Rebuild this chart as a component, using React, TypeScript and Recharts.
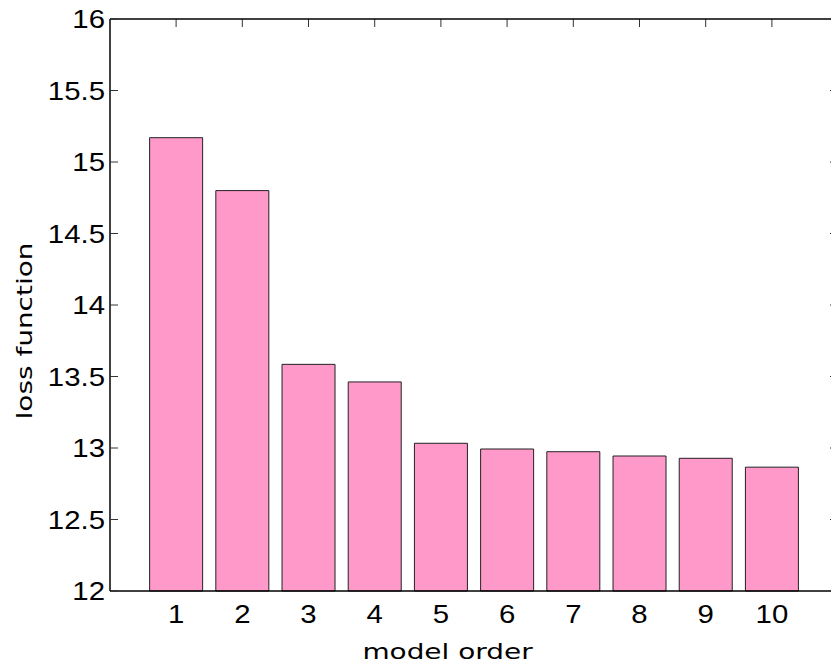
import React from 'react';
import { ComposedChart, Bar, Line, XAxis, YAxis, ReferenceLine } from 'recharts';

// Loss function value for each candidate model order
const MODEL_ORDERS = [1, 2, 3, 4, 5, 6, 7, 8, 9, 10];
const LOSS_VALUES = [15.17, 14.8, 13.585, 13.462, 13.033, 12.993, 12.974, 12.944, 12.928, 12.866];
const Y_TICKS = [12, 12.5, 13, 13.5, 14, 14.5, 15, 15.5, 16];
const Y_DOMAIN: [number, number] = [12, 16];

const X_TITLE = 'model order';
const Y_TITLE = 'loss function';

const data = MODEL_ORDERS.map((order, i) => ({ order, loss: LOSS_VALUES[i] }));

const CHART_W = 860;
const CHART_H = 663;
const MARGIN_TOP = 18;
const TOP_AXIS_H = 1;
const X_AXIS_H = 72;
const Y_AXIS_W = 110;
const PLOT_LEFT = Y_AXIS_W;
const PLOT_H = CHART_H - MARGIN_TOP - TOP_AXIS_H - X_AXIS_H;
const TICK_FONT = '"Liberation Sans", Arial, Helvetica, sans-serif';
const TITLE_FONT = '"DejaVu Sans", Verdana, sans-serif';
const TICK_LEN = 8;
const TICK_COLOR = '#333';
const Y_LABEL_GAP = 5;
// depth of the top-edge tick marks, expressed in y units
const TOP_TICK_DEPTH = ((Y_DOMAIN[1] - Y_DOMAIN[0]) * TICK_LEN) / PLOT_H;

const YTick = (props: any) => {
  const { x, y, payload } = props;
  return (
    <g transform={`translate(${x},${y}) scale(1.13,1)`}>
      <text x={0} y={0} dy="0.355em" textAnchor="end" fontFamily={TICK_FONT} fontSize={26} fill="#000">
        {payload.value}
      </text>
    </g>
  );
};

const XTick = (props: any) => {
  const { x, y, payload } = props;
  return (
    <g transform={`translate(${x},${y}) scale(1.13,1)`}>
      <text x={0} y={32} textAnchor="middle" fontFamily={TICK_FONT} fontSize={26} fill="#000">
        {payload.value}
      </text>
    </g>
  );
};

// Inward tick marks on both vertical edges of the box, one pair per y tick
const SideTicks = (props: any) => {
  const { x, y } = props;
  return (
    <g>
      <line x1={PLOT_LEFT} x2={PLOT_LEFT + TICK_LEN} y1={y} y2={y} stroke={TICK_COLOR} strokeWidth={1} />
      <line x1={x - TICK_LEN} x2={x} y1={y} y2={y} stroke={TICK_COLOR} strokeWidth={1} />
    </g>
  );
};

const XTitle = (props: any) => {
  const vb = props.viewBox || { x: 0, y: 0, width: 0 };
  const cx = vb.x + vb.width / 2 - 26.5;
  const by = vb.y + 68;
  return (
    <g transform={`translate(${cx},${by}) scale(1.27,1)`}>
      <text x={0} y={0} textAnchor="middle" fontFamily={TITLE_FONT} fontSize={22} fill="#000">
        {X_TITLE}
      </text>
    </g>
  );
};

const YTitle = (props: any) => {
  const vb = props.viewBox || { x: 0, y: 0, height: 0 };
  const cy = vb.y + vb.height / 2 + 26;
  const bx = vb.x + 32;
  return (
    <g transform={`translate(${bx},${cy}) rotate(-90) scale(1.27,1)`}>
      <text x={0} y={0} textAnchor="middle" fontFamily={TITLE_FONT} fontSize={22} fill="#000">
        {Y_TITLE}
      </text>
    </g>
  );
};

export default function App() {
  return (
    <div
      style={{
        position: 'absolute',
        left: 0,
        top: 0,
        width: 831,
        height: 663,
        overflow: 'hidden',
        background: '#fff',
      }}
    >
      <ComposedChart
        width={CHART_W}
        height={CHART_H}
        data={data}
        margin={{ top: MARGIN_TOP, right: 21, bottom: 0, left: 0 }}
        barCategoryGap="10%"
      >
        <XAxis
          dataKey="order"
          type="category"
          height={X_AXIS_H}
          padding={{ left: 33, right: 33 }}
          axisLine={{ stroke: '#000', strokeWidth: 1.5 }}
          tickLine={false}
          tickSize={0}
          tickMargin={0}
          tick={<XTick />}
          interval={0}
          label={<XTitle />}
        />
        <XAxis
          xAxisId="top"
          dataKey="order"
          type="category"
          orientation="top"
          height={TOP_AXIS_H}
          padding={{ left: 33, right: 33 }}
          axisLine={{ stroke: '#000', strokeWidth: 1.5 }}
          tickLine={false}
          tick={false}
          interval={0}
        />
        <YAxis
          type="number"
          domain={Y_DOMAIN}
          ticks={Y_TICKS}
          width={Y_AXIS_W}
          axisLine={{ stroke: '#000', strokeWidth: 1.5 }}
          tickLine={false}
          tickSize={0}
          tickMargin={Y_LABEL_GAP}
          tick={<YTick />}
          interval={0}
          label={<YTitle />}
        />
        <YAxis
          yAxisId="right"
          orientation="right"
          type="number"
          domain={Y_DOMAIN}
          ticks={Y_TICKS}
          width={1}
          axisLine={{ stroke: '#000', strokeWidth: 1.5 }}
          tickLine={false}
          tickSize={0}
          tickMargin={0}
          tick={<SideTicks />}
          interval={0}
        />
        <Bar dataKey="loss" fill="#FF99CA" stroke="#222" strokeWidth={1} isAnimationActive={false} />
        {/* invisible series that binds the mirrored top/right axes to the same data */}
        <Line
          xAxisId="top"
          yAxisId="right"
          dataKey="loss"
          stroke="none"
          dot={false}
          activeDot={false}
          legendType="none"
          isAnimationActive={false}
        />
        {/* inward tick marks along the top edge of the box */}
        {MODEL_ORDERS.map((order) => (
          <ReferenceLine
            key={`top-tick-${order}`}
            segment={[
              { x: order, y: Y_DOMAIN[1] },
              { x: order, y: Y_DOMAIN[1] - TOP_TICK_DEPTH },
            ]}
            stroke={TICK_COLOR}
            strokeWidth={1}
            ifOverflow="visible"
          />
        ))}
      </ComposedChart>
    </div>
  );
}
